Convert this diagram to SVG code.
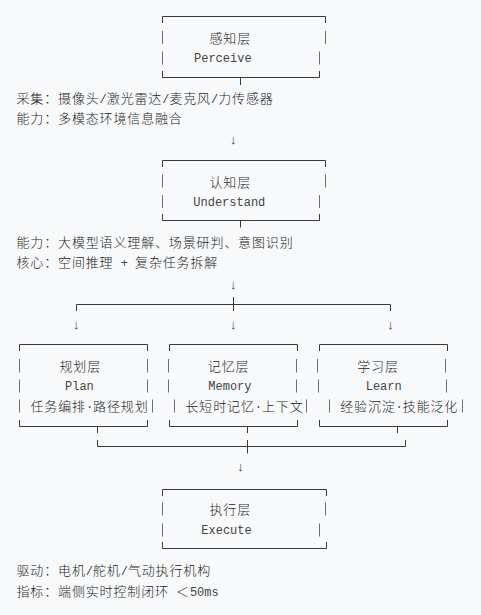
<svg xmlns="http://www.w3.org/2000/svg" width="481" height="615" viewBox="0 0 481 615">
<style>
.ln{stroke:#3a3a3a;stroke-width:1;fill:none}
.bar{stroke:#707070;stroke-width:1;fill:none}
.t{font-family:"Liberation Mono","DejaVu Sans Mono","Noto Sans CJK SC",monospace;font-size:12px;fill:#444}
.c{font-family:"Noto Sans CJK SC","Noto Sans CJK JP",sans-serif;font-size:13px;font-weight:300;letter-spacing:0.85px;fill:#1e1e1e}
.ar{font-family:"Liberation Mono","DejaVu Sans Mono",monospace;font-size:13px;fill:#444;text-anchor:middle}
</style>
<rect x="0" y="0" width="481" height="615" fill="#f8f9fb"/>

<g id="perceive">
<path class="ln" d="M162.5 23V16.5H325.5V23M162.5 71V77.5H319.5V71"/>
<path class="bar" d="M162.5 31V44M325.5 31V44M162.5 51.5V64.5M319.5 51.5V64.5"/>
<text class="t" x="209.5" y="42.5"><tspan class="c">感知层</tspan></text>
<text class="t" x="194" y="62.3">Perceive</text>
</g>
<g id="perceive-notes">
<text class="t" x="16.5" y="103.3"><tspan class="c">采集：摄像头</tspan>/<tspan class="c">激光雷达</tspan>/<tspan class="c">麦克风</tspan>/<tspan class="c">力传感器</tspan></text>
<text class="t" x="16.5" y="123.3"><tspan class="c">能力：多模态环境信息融合</tspan></text>
</g>

<g id="understand">
<path class="ln" d="M162.5 167V160.5H325.5V167M162.5 214V220.5H319.5V214"/>
<path class="bar" d="M162.5 174.5V187.5M325.5 174.5V187.5M162.5 195V208M319.5 195V208"/>
<text class="t" x="209.5" y="186.5"><tspan class="c">认知层</tspan></text>
<text class="t" x="193.3" y="206">Understand</text>
</g>
<g id="understand-notes">
<text class="t" x="16.5" y="246.7"><tspan class="c">能力：大模型语义理解、场景研判、意图识别</tspan></text>
<text class="t" x="16.5" y="267.3" xml:space="preserve"><tspan class="c">核心：空间推理</tspan> + <tspan class="c">复杂任务拆解</tspan></text>
</g>

<g id="plan">
<path class="ln" d="M19.5 351V344.5H147.5V351M19.5 420V426.5H147.5V420"/>
<path class="bar" d="M19.5 359V372.5M147.5 359V372.5M19.5 379.5V392.5M147.5 379.5V392.5M19.5 399.5V412.5M152.5 399.5V412.5"/>
<text class="t" x="59.5" y="370.7"><tspan class="c">规划层</tspan></text>
<text class="t" x="65" y="390.3">Plan</text>
<text class="t" x="30.5" y="411"><tspan class="c">任务编排</tspan>·<tspan class="c">路径规划</tspan></text>
</g>

<g id="memory">
<path class="ln" d="M169.5 351V344.5H297.5V351M169.5 420V426.5H297.5V420"/>
<path class="bar" d="M168.5 359V372.5M296.5 359V372.5M168.5 379.5V392.5M296.5 379.5V392.5M174.5 399.5V412.5M306.5 399.5V412.5"/>
<text class="t" x="207.8" y="370.7"><tspan class="c">记忆层</tspan></text>
<text class="t" x="208.3" y="390.3">Memory</text>
<text class="t" x="185.5" y="411"><tspan class="c">长短时记忆</tspan>·<tspan class="c">上下文</tspan></text>
</g>

<g id="learn">
<path class="ln" d="M319.5 351V344.5H447.5V351M319.5 420V426.5H447.5V420"/>
<path class="bar" d="M317.5 359V372.5M445.5 359V372.5M318.5 379.5V392.5M446.5 379.5V392.5M329.5 399.5V412.5M462.5 399.5V412.5"/>
<text class="t" x="357.2" y="370.7"><tspan class="c">学习层</tspan></text>
<text class="t" x="365.7" y="390.3">Learn</text>
<text class="t" x="340.2" y="411"><tspan class="c">经验沉淀</tspan>·<tspan class="c">技能泛化</tspan></text>
</g>

<g id="execute">
<path class="ln" d="M162.5 496V489.5H326.5V496M162.5 542V548.5H326.5V542"/>
<path class="bar" d="M162.5 502.5V515.5M325.5 502.5V515.5M162.5 523.5V536.5M319.5 523.5V536.5"/>
<text class="t" x="209.5" y="514"><tspan class="c">执行层</tspan></text>
<text class="t" x="201.3" y="534.3">Execute</text>
</g>
<g id="execute-notes">
<text class="t" x="16.5" y="575"><tspan class="c">驱动：电机</tspan>/<tspan class="c">舵机</tspan>/<tspan class="c">气动执行机构</tspan></text>
<text class="t" x="16.5" y="595.7" xml:space="preserve"><tspan class="c">指标：端侧实时控制闭环</tspan> <tspan class="c">＜</tspan>50ms</text>
</g>

<g id="connectors">
<path class="ln" d="M240.5 78V85M240.5 220.5V227.5"/>
<path class="ln" d="M76.5 311V304.5H390.5V311M233.5 297V311"/>
<path class="ln" d="M97.5 426.5V433M97.5 440V446.5H405.5V440M247.5 426.5V433M247.5 440V453.5M397.5 426.5V433"/>
<text class="ar" x="233.3" y="143.5">↓</text>
<text class="ar" x="233.3" y="288.5">↓</text>
<text class="ar" x="76.5" y="328.8">↓</text>
<text class="ar" x="233.3" y="328.8">↓</text>
<text class="ar" x="390.7" y="328.8">↓</text>
<text class="ar" x="240.7" y="471.2">↓</text>
</g>
</svg>
